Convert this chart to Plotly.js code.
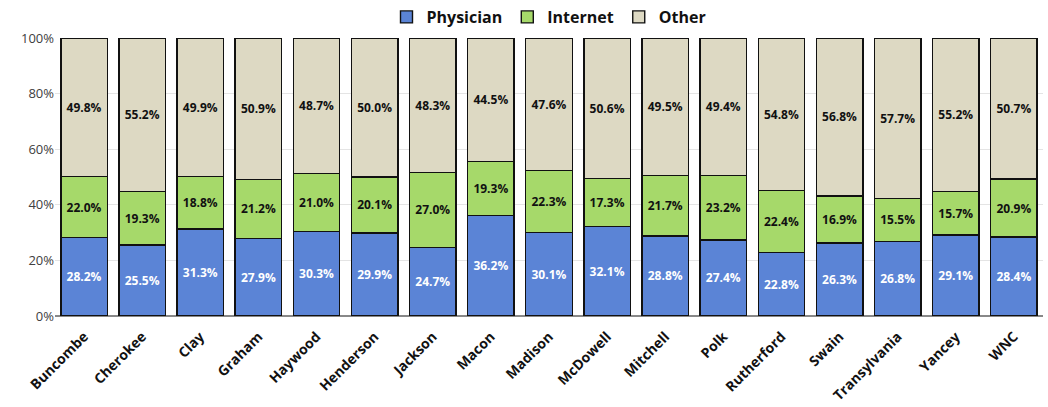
<!DOCTYPE html>
<html><head><meta charset="utf-8">
<script src="https://cdn.plot.ly/plotly-3.0.1.min.js"></script>
<style>body{margin:0;background:#fff}#c{width:1048px;height:407px}</style>
</head><body><div id="c"></div>
<script>
const categories = ["Buncombe","Cherokee","Clay","Graham","Haywood","Henderson","Jackson","Macon","Madison","McDowell","Mitchell","Polk","Rutherford","Swain","Transylvania","Yancey","WNC"];
const physician = [28.2,25.5,31.3,27.9,30.3,29.9,24.7,36.2,30.1,32.1,28.8,27.4,22.8,26.3,26.8,29.1,28.4];
const internet  = [22.0,19.3,18.8,21.2,21.0,20.1,27.0,19.3,22.3,17.3,21.7,23.2,22.4,16.9,15.5,15.7,20.9];
const other     = [49.8,55.2,49.9,50.9,48.7,50.0,48.3,44.5,47.6,50.6,49.5,49.4,54.8,56.8,57.7,55.2,50.7];
const yTicks = [0,20,40,60,80,100];
const yTickText = ["0%","20%","40%","60%","80%","100%"];

const font = "'Open Sans', 'DejaVu Sans', sans-serif";
function tr(name, vals, color, txtColor){
  return {type:'bar', name:name, x:categories, y:vals,
    text: vals.map(v=>'<b>'+v.toFixed(1)+'%</b>'), textposition:'inside', insidetextanchor:'middle',
    textangle:0, constraintext:'none',
    textfont:{family:font, size:12, color:txtColor},
    marker:{color:color, line:{color:'#111', width:1.4}}, hoverinfo:'skip'};
}
const data = [
  tr('Physician', physician, '#5B84D6', '#ffffff'),
  tr('Internet', internet, '#A6D96A', '#111111'),
  tr('Other', other, '#DDD9C3', '#111111')
];
const layout = {
  width:1048, height:407, barmode:'stack', bargap:0.2,
  margin:{l:55, r:5, t:38, b:91, autoexpand:false},
  paper_bgcolor:'#fff', plot_bgcolor:'#fff',
  font:{family:font, color:'#404040'},
  showlegend:true,
  legend:{orientation:'h', x:0.5, xanchor:'center', y:1.0, yanchor:'top', yref:'container',
    font:{family:font, size:16, color:'#111', weight:'bold'}, traceorder:'normal',
    itemwidth:30, tracegroupgap:0},
  xaxis:{tickangle:-45, tickfont:{family:font, size:14, color:'#111', weight:'bold'},
    showline:false, ticks:'outside', ticklen:6, tickcolor:'rgba(0,0,0,0)', automargin:false, fixedrange:true},
  yaxis:{range:[0,100], tickvals:yTicks, ticktext:yTickText, tickfont:{family:font, size:13, color:'#404040'},
    showgrid:true, gridcolor:'#e4e4e4', gridwidth:1, zeroline:true, zerolinecolor:'#888', zerolinewidth:1.5,
    ticks:'', automargin:false, fixedrange:true}
};
Plotly.newPlot('c', data, layout, {displayModeBar:false, staticPlot:true});
</script></body></html>
